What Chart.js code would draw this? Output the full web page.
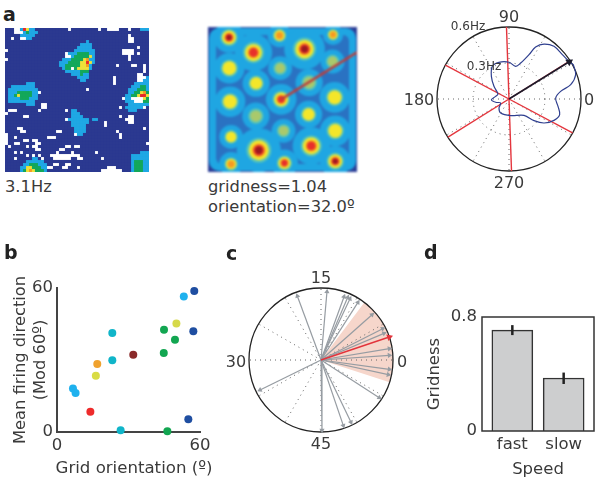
<!DOCTYPE html>
<html>
<head>
<meta charset="utf-8">
<script src="https://cdn.jsdelivr.net/npm/chart.js@4"></script>
<style>
  html, body { margin: 0; padding: 0; background: #fff; }
  #page { position: relative; width: 600px; height: 483px; overflow: hidden; font-family: "DejaVu Sans"; color: #3a3a3a; }
  canvas { position: absolute; filter: blur(0.35px); }
  .heat { filter: blur(0.6px); }
  .soft { filter: blur(1.2px); }
  .t { position: absolute; font-size: 16px; line-height: 20px; white-space: nowrap; transform: translate(-50%, -50%); }
  .l { position: absolute; font-size: 16.3px; line-height: 20px; white-space: nowrap; transform: translateY(-50%); }
  .v { position: absolute; font-size: 16.3px; line-height: 20px; white-space: nowrap; transform: translate(-50%, -50%) rotate(-90deg); }
  .small { font-size: 12px; }
  .p { position: absolute; font-size: 19px; font-weight: bold; line-height: 20px; color: #222; transform: translateY(-50%); }
</style>
</head>
<body>
<div id="page">
  <canvas id="rateMap" class="heat" width="144" height="144" style="left:5px;top:28px"></canvas>
  <canvas id="autoMap" class="soft" width="149" height="145" style="left:208px;top:27px"></canvas>
  <canvas id="polarRate" width="150" height="150" style="left:434px;top:24px"></canvas>
  <canvas id="scatter" width="225" height="243" style="left:0;top:240px"></canvas>
  <canvas id="polarDirs" width="150" height="150" style="left:246px;top:285px"></canvas>
  <canvas id="bars" width="180" height="243" style="left:420px;top:240px"></canvas>

  <span class="p" style="left:3px;top:14px">a</span>
  <span class="p" style="left:4px;top:252px">b</span>
  <span class="p" style="left:226px;top:253px">c</span>
  <span class="p" style="left:424px;top:252px">d</span>

  <span class="l" style="left:5px;top:187px">3.1Hz</span>
  <span class="l" style="left:208px;top:187px">gridness=1.04</span>
  <span class="l" style="left:208px;top:207px">orientation=32.0º</span>

  <span class="t" style="left:509px;top:17px">90</span>
  <span class="t" style="left:419px;top:100px">180</span>
  <span class="t" style="left:589px;top:100px">0</span>
  <span class="t" style="left:509px;top:183px">270</span>
  <span class="t small" style="left:468px;top:26px">0.6Hz</span>
  <span class="t small" style="left:484px;top:66px">0.3Hz</span>

  <span class="v" style="left:20px;top:360px">Mean firing direction</span>
  <span class="v" style="left:40px;top:360px">(Mod 60º)</span>
  <span class="t" style="left:134px;top:468px;font-size:16.6px">Grid orientation (º)</span>

  <span class="t" style="left:321px;top:278px">15</span>
  <span class="t" style="left:236px;top:362px">30</span>
  <span class="t" style="left:402px;top:362px">0</span>
  <span class="t" style="left:321px;top:444px">45</span>
</div>

<script>
  const textColor = "#3a3a3a";
  const labelFont = { family: "DejaVu Sans", size: 16.5 };

  // a, left: rate map. Cells are navy unless listed here: [row, firstCol, lastCol, level], level -1 = not visited
  const mapSize = 48;
  const mapColors = ["#2b3990", "#1fa8e4", "#13a85a", "#eee13a", "#f59a23", "#e8262a"];
  const mapRuns = [
    [0,5,5,1],[0,6,6,5],[0,7,7,3],[0,8,9,1],[0,3,4,-1],[0,21,21,-1],[0,31,31,-1],[0,34,37,-1],[0,41,41,-1],[0,45,47,1],
    [1,3,5,-1],[1,6,6,1],[1,7,7,2],[1,8,10,1],[2,5,9,1],[3,2,2,-1],[3,5,6,-1],[3,7,8,1],
    [2,41,41,-1],[3,41,42,-1],[4,41,42,-1],[6,44,44,-1],[7,39,42,-1],[8,39,42,-1],[8,44,44,-1],[9,41,41,-1],[10,41,41,-1],
    [12,37,37,-1],[12,42,43,-1],[12,46,46,-1],[13,46,46,-1],[14,46,46,-1],[16,36,36,-1],[17,36,36,-1],[18,36,36,-1],
    [7,0,0,-1],[10,0,0,-1],[28,0,0,-1],[35,0,0,-1],[36,0,0,-1],[37,0,0,-1],[38,0,0,-1],
    // blob, upper middle
    [4,27,27,1],[5,25,28,1],[6,24,28,1],[7,23,29,1],[8,21,29,1],[8,24,27,2],[8,20,20,-1],
    [9,20,29,1],[9,23,27,2],[9,28,28,3],[9,20,21,-1],[10,19,29,1],[10,22,25,2],[10,26,26,3],[10,27,27,4],
    [11,18,29,1],[11,21,24,2],[11,25,26,3],[11,27,27,5],[11,28,28,3],[12,18,28,1],[12,20,24,2],[12,25,26,3],[12,27,27,4],
    [13,19,28,1],[13,20,23,2],[13,24,27,3],[13,22,22,-1],[14,20,27,1],[14,25,27,2],[15,22,27,1],[15,25,25,2],[16,24,27,1],[17,25,26,1],
    // blob, left
    [18,7,9,1],[19,2,9,1],[20,1,10,1],[21,1,10,1],[21,4,8,2],[22,1,10,1],[22,3,8,2],[22,4,4,3],[23,1,10,1],[23,5,7,2],[24,1,9,1],[25,7,9,1],
    // blob, right edge
    [15,44,45,-1],[16,44,46,-1],[16,47,47,1],[17,44,45,-1],[17,46,47,1],[18,43,47,1],[19,42,47,1],[19,45,46,2],
    [20,41,47,1],[20,44,46,2],[21,41,47,1],[21,43,44,2],[21,45,45,3],[21,46,46,4],[21,47,47,2],
    [22,40,47,1],[22,42,43,2],[22,44,44,3],[22,45,46,5],[22,47,47,3],[23,40,41,1],[23,42,45,-1],[23,46,46,3],[23,47,47,2],[23,39,39,-1],
    [24,40,42,1],[24,43,45,-1],[24,46,47,2],[25,41,47,1],[26,40,45,1],[26,46,46,-1],[27,41,43,1],
    // star, centre
    [27,22,23,1],[28,22,24,1],[29,22,25,1],[30,21,27,1],[30,29,30,1],[31,22,27,1],[32,22,26,1],[33,23,26,1],[34,23,26,1],[35,24,25,1],[35,23,23,-1],
    // blob, lower right
    [41,45,47,1],[42,42,47,1],[43,42,47,1],[44,42,47,1],[44,43,45,2],[45,42,47,1],[45,43,45,2],[46,42,47,1],[46,43,45,2],[47,42,47,1],[47,43,45,2],
    // blob, lower left
    [43,9,10,1],[44,7,12,1],[45,6,13,1],[45,8,10,2],[46,5,13,1],[46,7,8,3],[46,9,11,2],[47,5,13,1],[47,6,6,2],[47,7,7,3],[47,8,8,4],[47,9,9,3],[47,10,12,2],
    // single holes
    [20,27,27,-1],[21,11,11,-1],[25,12,13,-1],[26,12,13,-1],[27,11,11,-1],[27,1,3,-1],[29,6,7,-1],[27,20,20,-1],[30,20,20,-1],
    [26,38,38,-1],[29,38,38,-1],[30,40,40,-1],[29,41,42,-1],[30,41,42,-1],[31,41,42,-1],[26,46,46,-1],[33,46,46,-1],
    [31,33,33,-1],[32,33,33,-1],[34,37,37,-1],[35,38,38,-1],[36,38,38,-1],[34,17,18,-1],[36,14,16,-1],[41,30,30,-1],[43,32,32,-1],[38,47,47,-1],
    // holes, lower left cluster
    [33,4,5,-1],[34,5,6,-1],[36,3,3,-1],[37,9,10,-1],[37,6,7,-1],[38,10,11,-1],[38,3,4,-1],[39,7,7,-1],[39,9,10,-1],[40,10,11,-1],[39,1,1,-1],
    [41,3,3,-1],[41,5,5,-1],[42,7,7,-1],[42,9,9,-1],[42,11,11,-1],[43,12,12,-1],[43,3,3,-1],
    // holes, lower middle cluster
    [39,23,24,-1],[39,20,21,-1],[40,18,19,-1],[41,17,17,-1],[41,22,22,-1],[42,15,17,-1],[42,18,21,-1],[42,22,24,-1],[43,16,21,-1],[43,24,25,-1],
    [45,20,21,-1],[45,16,17,-1],[46,24,24,-1],[46,14,15,-1],[46,19,20,-1],[47,32,38,-1],[46,34,36,-1]
  ];

  // a, middle: peaks of the smoothed map, position in percent of the square
  const peakX = [14.1,48,83.9,30.5,64.8,14.3,48.4,83.6,32.3,67.9,14.8,49.1,85,32.1,67.5,85.4,50.7,15.5,34.1,69.3,85.4,51.3,15.5];
  const peakY = [92.8,94.2,94.7,82.4,84.8,71.6,71.6,76.2,61.2,61.7,48.5,50.1,51.5,38.6,39.7,28.4,28.4,24.2,15,18,7.4,6.2,5.5];
  const peakSize = [9,7,6,11,12,9,7,7,8,8,9,9,9,8,8,9,7,7,13,11,9,8,7];
  const peakLevel = [5,3,3,4,5,2,1,1,2,1,2,4,2,1,2,2,1,2,5,4,5,4,3];
  const orientationFrom = [49.1, 50.1];
  const orientationTo = [100, 82.5];

  // a, right: firing rate by direction
  const curveAngle = [28.1,20,13.1,8.4,1.2,351.5,342.8,334.6,325.6,319.1,312.6,275.7,239.2,222,205.6,194,182.2,168.7,155.6,139.8,127.9,117,105.3,90,78.5,72,65.7,62.9,57.5,49.5,39.7,32.1,28.1];
  const curveRate = [.608,.591,.528,.435,.389,.413,.442,.415,.354,.276,.185,.139,.136,.112,.077,.114,.147,.113,.101,.164,.239,.306,.317,.306,.278,.315,.405,.487,.543,.577,.578,.59,.608];
  const gridAxes = [32, 92, 152, 212, 272, 332];
  const meanAngle = 31.7;
  const meanRate = .59;
  const maxRate = .6;

  // b
  const orientX = [53.2,57.6,57.2,50.1,44.9,49.5,44.8,23.2,23.2,32,16.9,16.3,6.7,7.8,14,55.1,26.7,46.3];
  const firingY = [56.5,58.7,42,45.2,42.6,38.4,32.9,41.3,29.9,32.2,28.3,23.4,18.1,16.2,8.4,5.3,.7,.3];
  const dotColors = ["#1fb1ee","#1f4ea1","#1f4ea1","#d6d94a","#12a651","#12a651","#12a651","#10b5c9","#10b5c9","#8a2a2a","#f0a22e","#d9dc44","#1fb1ee","#1fb1ee","#ee2b2b","#1f4ea1","#10b5c9","#12a651"];

  // c: one arrow per cell, the red one is the mean
  const arrowAngle = [110.3,85,70,66.9,64.7,57.3,41.6,26.9,22.9,9.4,3.9,-7.8,-12.3,-32.9,-64.3,-71.2,-89.2,206.2];
  const arrowLength = [.948,.953,.936,.946,.942,.951,.948,.961,.95,.962,.951,.958,.957,.964,.961,.963,.977,.944];
  const meanArrowAngle = 18.6;
  const meanArrowLength = 1;
  const wedgeFrom = -18;
  const wedgeTo = 53;

  // d
  const speedLabels = ["fast", "slow"];
  const gridnessValues = [.708, .372];
  const gridnessLow = [.673, .33];
  const gridnessHigh = [.743, .41];

  function polarPoint(angle, r) {
    const rad = angle * Math.PI / 180;
    return { x: r * Math.cos(rad), y: r * Math.sin(rad) };
  }

  // bare x/y scales, unit circle fills 72px of the 150px canvas
  function polarScales() {
    const lim = 75 / 72;
    return {
      x: { type: "linear", display: false, min: -lim, max: lim },
      y: { type: "linear", display: false, min: -lim, max: lim }
    };
  }

  function bareOptions(scales) {
    return {
      responsive: false,
      animation: false,
      layout: { padding: 0, autoPadding: false },
      plugins: { legend: { display: false }, tooltip: { enabled: false } },
      scales: scales
    };
  }

  function polarFrame(opts) {
    return {
      id: "polarFrame",
      beforeDatasetsDraw(chart) {
        const ctx = chart.ctx;
        const cx = chart.scales.x.getPixelForValue(0);
        const cy = chart.scales.y.getPixelForValue(0);
        const rad = chart.scales.x.getPixelForValue(1) - cx;
        ctx.save();
        if (opts.wedge) {
          ctx.fillStyle = "#f6d6cb";
          ctx.beginPath();
          ctx.moveTo(cx, cy);
          ctx.arc(cx, cy, rad, -opts.wedge[1] * Math.PI / 180, -opts.wedge[0] * Math.PI / 180);
          ctx.closePath();
          ctx.fill();
        }
        ctx.strokeStyle = "#666";
        ctx.lineWidth = 1;
        ctx.setLineDash([1, 4]);
        for (let a = 0; a < 360; a += 30) {
          const p = polarPoint(a, 1);
          ctx.beginPath();
          ctx.moveTo(cx, cy);
          ctx.lineTo(chart.scales.x.getPixelForValue(p.x), chart.scales.y.getPixelForValue(p.y));
          ctx.stroke();
        }
        if (opts.ring) {
          ctx.beginPath();
          ctx.arc(cx, cy, rad * opts.ring, 0, Math.PI * 2);
          ctx.stroke();
        }
        ctx.setLineDash([]);
        ctx.strokeStyle = "#222";
        ctx.lineWidth = 1.3;
        ctx.beginPath();
        ctx.arc(cx, cy, rad, 0, Math.PI * 2);
        ctx.stroke();
        ctx.restore();
      }
    };
  }

  function arrowDataset(angle, length, color, width, head) {
    return {
      data: [{ x: 0, y: 0 }, polarPoint(angle, length)],
      showLine: true,
      borderColor: color,
      borderWidth: width,
      pointStyle: "triangle",
      pointRadius: [0, head],
      pointRotation: 90 - angle,
      pointBackgroundColor: color,
      pointBorderColor: color,
      pointBorderWidth: 0,
      clip: false
    };
  }

  // --- a, rate map
  const mapGrid = [];
  for (let r = 0; r < mapSize; r++) mapGrid.push(new Array(mapSize).fill(0));
  mapRuns.forEach(function (run) {
    for (let c = run[1]; c <= run[2]; c++) mapGrid[run[0]][c] = run[3];
  });
  const mapPoints = mapColors.map(function () { return []; });
  mapGrid.forEach(function (cols, r) {
    cols.forEach(function (level, c) {
      if (level >= 0) mapPoints[level].push({ x: c + 0.5, y: r + 0.5 });
    });
  });
  new Chart(document.querySelector("#rateMap"), {
    type: "scatter",
    data: {
      datasets: mapPoints.map(function (pts, i) {
        return { data: pts, pointStyle: "rect", pointRadius: 2.2, pointBorderWidth: 0, pointBackgroundColor: mapColors[i] };
      })
    },
    options: bareOptions({
      x: { type: "linear", display: false, min: 0, max: mapSize },
      y: { type: "linear", display: false, min: 0, max: mapSize, reverse: true }
    })
  });

  // --- a, smoothed map. Chart.js paints the first dataset last, so line and peak centres come first
  function peakRing(color, scale, fromLevel, toLevel) {
    return {
      data: peakX.map(function (x, i) { return { x: x, y: peakY[i] }; }),
      pointRadius: function (c) {
        const lvl = peakLevel[c.dataIndex];
        return lvl >= fromLevel && lvl <= toLevel ? peakSize[c.dataIndex] * scale : 0;
      },
      pointBackgroundColor: color,
      pointBorderWidth: 0
    };
  }
  new Chart(document.querySelector("#autoMap"), {
    type: "scatter",
    data: {
      datasets: [
        {
          data: [{ x: orientationFrom[0], y: orientationFrom[1] }, { x: orientationTo[0], y: orientationTo[1] }],
          showLine: true,
          borderColor: "#bb3f3c",
          borderWidth: 2.4,
          pointRadius: 0
        },
        peakRing("#9c1a20", 0.28, 5, 5),
        peakRing("#e8302a", 0.4, 4, 5),
        peakRing("#f59a23", 0.52, 3, 5),
        peakRing("#f4e62a", 0.76, 2, 5),
        peakRing("#a9c96c", 0.7, 1, 1),
        peakRing("#5cc6b4", 0.95, 1, 5),
        peakRing("#1fa6e2", 1.7, 1, 5)
      ]
    },
    options: bareOptions({
      x: { type: "linear", display: false, min: 0, max: 100 },
      y: { type: "linear", display: false, min: 0, max: 100 }
    }),
    plugins: [{
      id: "background",
      beforeDatasetsDraw(chart) {
        const ctx = chart.ctx;
        const a = chart.chartArea;
        ctx.save();
        ctx.fillStyle = "#2b3f98";
        ctx.fillRect(a.left, a.top, a.width, a.height);
        ctx.fillStyle = "#1fa6e2";
        ctx.beginPath();
        ctx.roundRect(a.left + 1, a.top + 1, a.width - 2, a.height - 2, 10);
        ctx.fill();
        ctx.fillStyle = "#2a72c2";
        ctx.beginPath();
        ctx.roundRect(a.left + 8, a.top + 8, a.width - 16, a.height - 16, 6);
        ctx.fill();
        ctx.restore();
      }
    }]
  });

  // --- a, polar rate
  new Chart(document.querySelector("#polarRate"), {
    type: "scatter",
    data: {
      datasets: [
        arrowDataset(meanAngle, meanRate / maxRate, "#1c1c2c", 1.6, 4.5),
        {
          data: curveAngle.map(function (a, i) { return polarPoint(a, curveRate[i] / maxRate); }),
          showLine: true,
          borderColor: "#2f3f8f",
          borderWidth: 1.2,
          tension: 0.35,
          pointRadius: 0,
          clip: false
        }
      ].concat(gridAxes.map(function (a) {
        return { data: [{ x: 0, y: 0 }, polarPoint(a, 1)], showLine: true, borderColor: "#e4353d", borderWidth: 1.4, pointRadius: 0 };
      }))
    },
    options: bareOptions(polarScales()),
    plugins: [polarFrame({ ring: 0.5 })]
  });

  // --- b
  new Chart(document.querySelector("#scatter"), {
    type: "scatter",
    data: {
      datasets: [{
        data: orientX.map(function (x, i) { return { x: x, y: firingY[i] }; }),
        pointRadius: 4,
        pointBorderWidth: 0,
        pointBackgroundColor: dotColors,
        clip: false
      }]
    },
    options: Object.assign(bareOptions({
      x: {
        type: "linear",
        min: 0,
        max: 60,
        afterFit: function (s) { s.height = 48; },
        grid: { display: false, drawTicks: false },
        border: { color: "#444", width: 2 },
        ticks: { stepSize: 60, color: textColor, font: labelFont, padding: 4, maxRotation: 0 }
      },
      y: {
        type: "linear",
        min: 0,
        max: 60,
        afterFit: function (s) { s.width = 57; },
        grid: { display: false, drawTicks: false },
        border: { color: "#444", width: 2 },
        ticks: { stepSize: 60, color: textColor, font: labelFont, padding: 4 }
      }
    }), { layout: { padding: { top: 48, right: 25, bottom: 3, left: 0 }, autoPadding: false } })
  });

  // --- c
  new Chart(document.querySelector("#polarDirs"), {
    type: "scatter",
    data: {
      datasets: [arrowDataset(meanArrowAngle, meanArrowLength, "#e2343c", 1.4, 4)].concat(arrowAngle.map(function (a, i) {
        return arrowDataset(a, arrowLength[i], "#969ca2", 1.2, 3);
      }))
    },
    options: bareOptions(polarScales()),
    plugins: [polarFrame({ wedge: [wedgeFrom, wedgeTo] })]
  });

  // --- d
  const speedPositions = speedLabels.map(function (s, i) { return i; });
  new Chart(document.querySelector("#bars"), {
    type: "bar",
    data: {
      datasets: [{
        order: 2,
        data: speedPositions.map(function (p) { return { x: p, y: gridnessValues[p] }; }),
        backgroundColor: "#cdcecf",
        borderColor: "#333",
        borderWidth: 1.5,
        barThickness: 41
      }].concat(speedPositions.map(function (p) {
        return {
          order: 1,
          type: "line",
          data: [{ x: p, y: gridnessLow[p] }, { x: p, y: gridnessHigh[p] }],
          borderColor: "#222",
          borderWidth: 2.5,
          pointRadius: 0
        };
      }))
    },
    options: Object.assign(bareOptions({
      x: {
        type: "linear",
        offset: false,
        min: -0.591,
        max: 1.591,
        afterBuildTicks: function (s) { s.ticks = speedPositions.map(function (p) { return { value: p }; }); },
        afterFit: function (s) { s.height = 49; },
        grid: { display: false, drawTicks: false },
        border: { display: false },
        ticks: {
          color: textColor,
          font: labelFont,
          padding: 4,
          maxRotation: 0,
          callback: function (v) { return speedLabels[v]; }
        },
        title: { display: true, text: "Speed", color: textColor, font: labelFont, padding: { top: 0, bottom: 0 } }
      },
      y: {
        type: "linear",
        min: 0,
        max: 0.8,
        afterFit: function (s) { s.width = 62; },
        grid: { display: false, drawTicks: false },
        border: { display: false },
        ticks: { stepSize: 0.8, color: textColor, font: labelFont, padding: 5 },
        title: { display: true, text: "Gridness", color: textColor, font: labelFont, padding: { top: 5, bottom: 0 } }
      }
    }), { layout: { padding: { top: 77, right: 6, bottom: 3, left: 0 }, autoPadding: false } }),
    plugins: [{
      id: "frame",
      afterDraw(chart) {
        const a = chart.chartArea;
        chart.ctx.save();
        chart.ctx.strokeStyle = "#333";
        chart.ctx.lineWidth = 1.5;
        chart.ctx.strokeRect(a.left, a.top, a.width, a.height);
        chart.ctx.restore();
      }
    }]
  });
</script>
</body>
</html>
